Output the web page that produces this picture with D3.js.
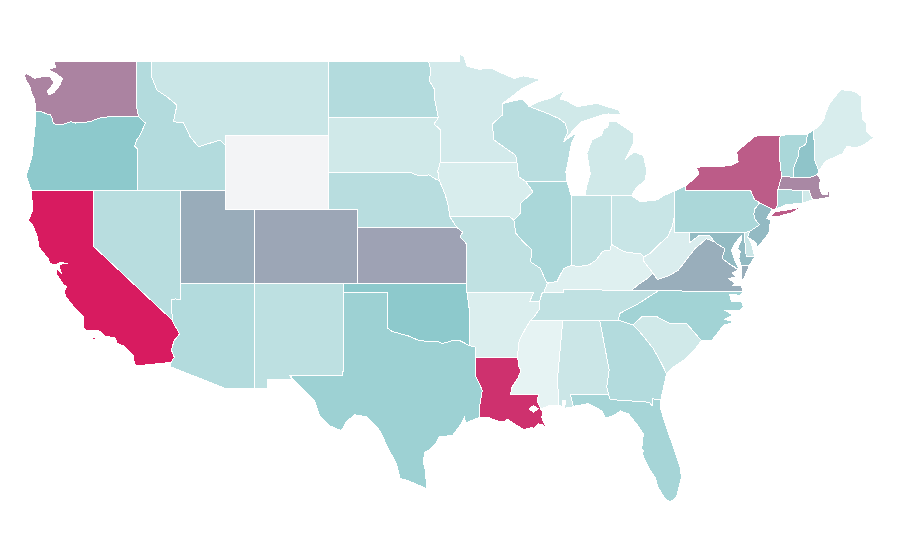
<!DOCTYPE html>
<html>
<head>
<meta charset="utf-8">
<style>
  html, body { margin: 0; padding: 0; background: #fff; }
</style>
<script src="https://cdn.jsdelivr.net/npm/d3@7"></script>
</head>
<body>
<div id="app"></div>
<script>
// 0 to 100, null means no data
const stateNames = ["WA","OR","CA","NV","ID","MT","WY","UT","CO","AZ","NM","ND","SD","NE","KS","OK","TX","MN","IA","MO","AR","LA","WI","IL","IN","MI","OH","KY","TN","MS","AL","GA","FL","SC","NC","VA","WV","PA","NY","VT","NH","ME","MA","CT","RI","NJ","DE","MD"];
const stateValues = [58,30,100,16.5,18,10.7,null,41.5,44,18,15,18,9,16.5,45.5,30,25,8,6.3,14,5.4,91,16.5,21,14,9,11.4,4,14,2,10.5,18,22,9,23.4,41,5.7,20.5,74,21,32,6.3,56,20,9,36,10.5,35.6];

// state outlines as [lon, lat] rings
const WA = [[[-117.03,49],[-117.04,46.42],[-116.92,45.99],[-118.98,46],[-119.3,45.93],[-119.6,45.92],[-120.2,45.73],[-120.5,45.7],[-121.2,45.65],[-121.5,45.72],[-122,45.6],[-122.3,45.55],[-122.7,45.62],[-122.8,45.9],[-122.9,46.1],[-123.2,46.15],[-123.5,46.26],[-123.9,46.27],[-123.95,46.6],[-123.97,46.9],[-124.2,47.3],[-124.3,47.6],[-124.55,47.95],[-124.65,48.17],[-124.62,48.38],[-124,48.06],[-123.45,48.15],[-122.9,48.15],[-122.67,47.8],[-123.12,47.38],[-123,47.16],[-122.67,47.3],[-122.26,47.7],[-122.1,48.06],[-122.55,48.33],[-123,48.5],[-123,48.6],[-122.55,48.64],[-122.67,49]]];
const OR = [[[-123.9,46.27],[-123.5,46.26],[-123.2,46.15],[-122.9,46.1],[-122.8,45.9],[-122.7,45.62],[-122.3,45.55],[-122,45.6],[-121.5,45.72],[-121.2,45.65],[-120.5,45.7],[-120.2,45.73],[-119.6,45.92],[-119.3,45.93],[-118.98,46],[-116.92,45.99],[-116.46,45.65],[-116.85,44.95],[-117.05,44.75],[-117.2,44.4],[-117,44.25],[-117.03,43.8],[-117.03,42],[-120,42],[-124.2,42],[-124.4,42.4],[-124.55,42.84],[-124.4,43.2],[-124.15,43.9],[-124.05,44.7],[-123.95,45.5]]];
const CA = [[[-124.2,42],[-120,42],[-120,39],[-114.63,35],[-114.45,34.7],[-114.14,34.27],[-114.5,33.9],[-114.7,33.4],[-114.5,33],[-114.72,32.72],[-117.12,32.53],[-117.25,32.85],[-117.3,33.1],[-117.9,33.6],[-118.4,33.75],[-118.5,34.03],[-119.2,34.15],[-119.6,34.42],[-120.5,34.45],[-120.65,34.6],[-120.65,35.15],[-121.3,35.7],[-121.9,36.3],[-121.95,36.6],[-121.8,36.8],[-122.05,36.95],[-122.5,37.5],[-122.5,37.8],[-122.15,37.5],[-122.35,37.95],[-122.1,38.05],[-121.7,38.05],[-122.25,38.12],[-122.5,38],[-122.95,38.05],[-123.05,38.3],[-123.7,38.95],[-123.8,39.5],[-124.1,40.1],[-124.4,40.4],[-124.1,41],[-124.2,41.75]],[[-120.15,34.02],[-119.95,34.08],[-119.75,34.02],[-119.95,33.95]],[[-118.55,33.45],[-118.35,33.42],[-118.45,33.35]]];
const NV = [[[-120,42],[-114.05,42],[-114.05,36.2],[-114.1,36.1],[-114.4,36.15],[-114.7,36.1],[-114.7,35.8],[-114.65,35.3],[-114.63,35],[-120,39]]];
const ID = [[[-117.03,49],[-116.05,49],[-116.04,48.15],[-115.68,47.43],[-115,47.07],[-114.32,46.62],[-114.55,45.72],[-113.87,45.66],[-113.42,44.91],[-112.86,44.37],[-111.39,44.73],[-111.05,44.47],[-111.05,42],[-114.05,42],[-117.03,42],[-117.03,43.8],[-117,44.25],[-117.2,44.4],[-117.05,44.75],[-116.85,44.95],[-116.46,45.65],[-116.92,45.99],[-117.04,46.42]]];
const MT = [[[-116.05,49],[-104.05,49],[-104.05,45.94],[-104.05,45],[-111.05,45],[-111.05,44.47],[-111.39,44.73],[-112.86,44.37],[-113.42,44.91],[-113.87,45.66],[-114.55,45.72],[-114.32,46.62],[-115,47.07],[-115.68,47.43],[-116.04,48.15]]];
const WY = [[[-111.05,45],[-104.05,45],[-104.05,43],[-104.05,41],[-109.05,41],[-111.05,41]]];
const UT = [[[-114.05,42],[-111.05,42],[-111.05,41],[-109.05,41],[-109.05,37],[-114.05,37]]];
const CO = [[[-109.05,41],[-104.05,41],[-102.05,41],[-102.05,40],[-102.05,37],[-103,37],[-109.05,37]]];
const AZ = [[[-114.05,37],[-109.05,37],[-109.05,31.33],[-111.07,31.33],[-114.8,32.5],[-114.72,32.72],[-114.5,33],[-114.7,33.4],[-114.5,33.9],[-114.14,34.27],[-114.45,34.7],[-114.63,35],[-114.65,35.3],[-114.7,35.8],[-114.7,36.1],[-114.4,36.15],[-114.1,36.1],[-114.05,36.2]]];
const NM = [[[-109.05,37],[-103,37],[-103,36.5],[-103.04,32],[-106.62,32],[-106.53,31.78],[-108.2,31.78],[-108.2,31.33],[-109.05,31.33]]];
const ND = [[[-104.05,49],[-97.23,49],[-97.1,48.6],[-97.15,47.9],[-96.85,47.5],[-96.8,46.9],[-96.56,45.94],[-104.05,45.94]]];
const SD = [[[-104.05,45.94],[-96.56,45.94],[-96.85,45.6],[-96.45,45.3],[-96.45,43.5],[-96.6,43.05],[-96.5,42.55],[-96.7,42.6],[-97.2,42.85],[-97.9,42.8],[-98.5,43],[-104.05,43]]];
const NE = [[[-104.05,43],[-98.5,43],[-97.9,42.8],[-97.2,42.85],[-96.7,42.6],[-96.5,42.55],[-96.1,41.8],[-95.9,41.2],[-95.77,40.58],[-95.3,40],[-102.05,40],[-102.05,41],[-104.05,41]]];
const KS = [[[-102.05,40],[-95.3,40],[-95.05,39.85],[-94.9,39.75],[-95.1,39.5],[-94.62,39.1],[-94.62,37],[-102.05,37]]];
const OK = [[[-103,37],[-94.62,37],[-94.62,36.5],[-94.43,35.4],[-94.48,33.64],[-95.15,33.92],[-95.7,33.88],[-96.28,33.74],[-96.6,33.85],[-97.2,33.85],[-97.86,33.9],[-98.6,34.15],[-99.2,34.28],[-99.7,34.4],[-100,34.56],[-100,36.5],[-103,36.5]]];
const TX = [[[-103,36.5],[-100,36.5],[-100,34.56],[-99.7,34.4],[-99.2,34.28],[-98.6,34.15],[-97.86,33.9],[-97.2,33.85],[-96.6,33.85],[-96.28,33.74],[-95.7,33.88],[-95.15,33.92],[-94.48,33.64],[-94.04,33.55],[-94.04,33],[-94.04,32],[-93.8,31.6],[-93.58,31.22],[-93.75,30.4],[-93.8,29.75],[-94.7,29.45],[-94.8,29.75],[-95,29.4],[-95.6,28.78],[-96.5,28.7],[-96.72,28.35],[-97.2,27.97],[-97.47,27.88],[-97.6,27.35],[-97.45,26.9],[-97.35,25.9],[-98.65,26.35],[-99.15,26.45],[-99.44,27.3],[-99.9,27.97],[-100.55,29.05],[-101.4,29.78],[-102.26,29.9],[-102.82,29.5],[-103.16,29.03],[-103.95,29.3],[-104.63,29.85],[-104.96,30.65],[-106.2,31.6],[-106.62,32],[-103.04,32]]];
const MN = [[[-97.23,49],[-95.15,49],[-95.15,49.35],[-94.85,49.3],[-94.6,48.72],[-93.8,48.55],[-92.95,48.62],[-92.22,48.33],[-91.4,48.05],[-90.8,48.2],[-89.6,48],[-90.8,47.55],[-92.22,46.7],[-92.22,46.08],[-92.9,45.6],[-92.78,44.73],[-91.3,43.9],[-91.22,43.5],[-96.45,43.5],[-96.45,45.3],[-96.85,45.6],[-96.56,45.94],[-96.8,46.9],[-96.85,47.5],[-97.15,47.9],[-97.1,48.6]]];
const IA = [[[-96.45,43.5],[-91.22,43.5],[-91.1,42.75],[-90.64,42.5],[-90.13,41.93],[-91,41.3],[-91,40.77],[-91.43,40.4],[-91.73,40.6],[-95.77,40.58],[-95.9,41.2],[-96.1,41.8],[-96.5,42.55],[-96.6,43.05]]];
const MO = [[[-95.77,40.58],[-91.73,40.6],[-91.43,40.4],[-91.3,39.7],[-90.76,39.2],[-90.2,38.8],[-90.3,38.15],[-89.63,37.8],[-89.29,37.16],[-89.15,37],[-89.4,36.5],[-89.5,36.5],[-89.7,36],[-90.37,36],[-90.08,36.5],[-94.62,36.5],[-94.62,37],[-94.62,39.1],[-95.1,39.5],[-94.9,39.75],[-95.05,39.85],[-95.3,40]]];
const AR = [[[-94.62,36.5],[-90.08,36.5],[-90.37,36],[-89.7,36],[-89.7,35.6],[-90.05,35.2],[-90.3,35],[-90.6,34.6],[-90.95,34.1],[-91.1,33.8],[-91.15,33.4],[-91.17,33],[-94.04,33],[-94.04,33.55],[-94.48,33.64],[-94.43,35.4]]];
const LA = [[[-94.04,33],[-91.17,33],[-91.1,32.5],[-90.95,32.3],[-91.15,31.9],[-91.55,31.4],[-91.66,31],[-89.74,31],[-89.85,30.65],[-89.6,30.2],[-89.45,30.05],[-89.55,29.75],[-89.2,29.15],[-89.45,29.35],[-89.75,29.4],[-90.1,29.15],[-90.2,29.2],[-90.75,29.1],[-91.3,29.35],[-91.85,29.65],[-92.05,29.55],[-92.5,29.55],[-93.2,29.75],[-93.8,29.75],[-93.75,30.4],[-93.58,31.22],[-93.8,31.6],[-94.04,32]],[[-90.4,30.22],[-90.1,30.38],[-89.78,30.22],[-90.1,30.03]]];
const WI = [[[-92.22,46.7],[-90.87,46.95],[-90.4,46.55],[-89.1,46.15],[-88.39,45.9],[-87.94,45.63],[-87.77,45.18],[-88.05,44.64],[-87.7,44.85],[-87.15,45.15],[-87.5,44.6],[-87.6,44.2],[-87.7,43.75],[-87.9,43],[-87.83,42.5],[-90.64,42.5],[-91.1,42.75],[-91.22,43.5],[-91.3,43.9],[-92.78,44.73],[-92.9,45.6],[-92.22,46.08]]];
const IL = [[[-90.64,42.5],[-87.83,42.5],[-87.55,41.75],[-87.53,39.35],[-87.55,38.7],[-87.55,37.95],[-88.05,37.8],[-88.5,37.1],[-89.15,37],[-89.29,37.16],[-89.63,37.8],[-90.3,38.15],[-90.2,38.8],[-90.76,39.2],[-91.3,39.7],[-91.43,40.4],[-91,40.77],[-91,41.3],[-90.13,41.93]]];
const IN = [[[-87.55,41.75],[-87.2,41.75],[-86.58,41.76],[-84.8,41.76],[-84.8,39.1],[-84.9,38.78],[-85.4,38.73],[-85.85,38.25],[-86.3,38],[-87,37.9],[-87.55,37.95],[-87.55,38.7],[-87.53,39.35]]];
const MI = [[[-86.58,41.76],[-84.8,41.76],[-83.45,41.73],[-83.15,42.1],[-82.5,42.6],[-82.4,43.1],[-82.64,43.9],[-83.3,44.1],[-83.87,43.65],[-83.3,44.55],[-83.3,45.09],[-84.44,45.72],[-85,45.72],[-85.05,45.4],[-85.34,45.36],[-85.46,45],[-86.13,44.73],[-86.47,44],[-86.24,42.93],[-86.5,42.2]],[[-90.4,46.55],[-89.8,46.8],[-88.9,47],[-88,47.42],[-88.3,46.95],[-87.83,46.85],[-87.15,46.53],[-85.8,46.71],[-84.33,46.35],[-84.11,46.08],[-85,46.14],[-85.46,46.08],[-86.81,45.72],[-87.49,45.18],[-88.05,44.64],[-87.77,45.18],[-87.94,45.63],[-88.39,45.9],[-89.1,46.15]]];
const OH = [[[-84.8,41.76],[-83.45,41.73],[-82.85,41.4],[-81.7,41.5],[-81.2,41.75],[-80.52,41.98],[-80.52,40.64],[-80.7,40],[-81,39.5],[-81.7,39],[-82.2,38.6],[-82.6,38.42],[-82.85,38.6],[-83.7,38.65],[-84.2,38.8],[-84.8,39.1]]];
const KY = [[[-89.4,36.5],[-88.07,36.5],[-88.07,36.68],[-86.5,36.65],[-83.45,36.6],[-83.1,36.85],[-82.3,37.3],[-81.97,37.54],[-82.6,38.17],[-82.6,38.42],[-82.85,38.6],[-83.7,38.65],[-84.2,38.8],[-84.8,39.1],[-84.9,38.78],[-85.4,38.73],[-85.85,38.25],[-86.3,38],[-87,37.9],[-87.55,37.95],[-88.05,37.8],[-88.5,37.1],[-89.15,37]]];
const TN = [[[-90.3,35],[-88.2,35],[-85.6,35],[-84.33,35],[-84.26,35.36],[-82.97,35.9],[-81.74,36.53],[-81.68,36.59],[-83.45,36.6],[-86.5,36.65],[-88.07,36.68],[-88.07,36.5],[-89.4,36.5],[-89.5,36.5],[-89.7,36],[-89.7,35.6],[-90.05,35.2]]];
const MS = [[[-91.17,33],[-91.15,33.4],[-91.1,33.8],[-90.95,34.1],[-90.6,34.6],[-90.3,35],[-88.2,35],[-88.12,34.9],[-88.46,31.94],[-88.4,30.4],[-89,30.4],[-89.6,30.2],[-89.85,30.65],[-89.74,31],[-91.66,31],[-91.55,31.4],[-91.15,31.9],[-90.95,32.3],[-91.1,32.5]]];
const AL = [[[-88.2,35],[-85.6,35],[-84.96,32.3],[-85.12,31.4],[-85,31],[-87.6,31],[-87.4,30.35],[-87.5,30.3],[-88,30.25],[-87.9,30.65],[-88.1,30.65],[-88.15,30.35],[-88.4,30.4],[-88.46,31.94],[-88.12,34.9]]];
const GA = [[[-85.6,35],[-84.33,35],[-83.35,34.75],[-82.97,34.46],[-81.96,33.47],[-81.4,32.66],[-81.06,32.1],[-81.2,31.6],[-81.45,30.72],[-82,30.75],[-82.05,30.35],[-82.2,30.57],[-84.9,30.72],[-85,31],[-85.12,31.4],[-84.96,32.3]]];
const FL = [[[-87.6,31],[-85,31],[-84.9,30.72],[-82.2,30.57],[-82.05,30.35],[-82,30.75],[-81.45,30.72],[-81.5,30.3],[-81.06,29.2],[-80.6,28.15],[-80.15,27.07],[-80.05,26.5],[-80.38,25.45],[-80.83,25.18],[-81.2,25.4],[-81.62,25.95],[-81.84,26.5],[-82.3,27.07],[-82.75,27.85],[-82.6,27.95],[-82.75,28.05],[-82.64,28.87],[-83.1,29.4],[-83.65,29.95],[-84.2,30.1],[-84.66,29.85],[-85.23,29.72],[-85.45,30.1],[-86.36,30.5],[-87.4,30.35]]];
const SC = [[[-83.35,34.75],[-82.75,35.18],[-81.74,35.2],[-80.83,34.82],[-79.7,34.82],[-78.7,33.9],[-79.15,33.4],[-79.8,32.9],[-80.72,32.4],[-81.06,32.1],[-81.4,32.66],[-81.96,33.47],[-82.97,34.46]]];
const NC = [[[-84.33,35],[-84.26,35.36],[-82.97,35.9],[-81.74,36.53],[-81.68,36.59],[-75.87,36.55],[-76.05,36.35],[-76.77,36.39],[-76.66,36.03],[-75.99,36.03],[-75.83,35.72],[-76.1,35.54],[-77.1,35.54],[-76.55,35.27],[-77.1,35.05],[-76.43,34.9],[-77.2,34.73],[-77.45,34.46],[-78,33.9],[-78.7,33.9],[-79.7,34.82],[-80.83,34.82],[-81.74,35.2],[-82.75,35.18],[-83.35,34.75]]];
const VA = [[[-83.45,36.6],[-81.68,36.59],[-75.87,36.55],[-75.99,36.9],[-76.55,36.9],[-76.4,37],[-76.85,37.25],[-76.3,37.35],[-76.6,37.55],[-76.2,37.72],[-76.66,37.97],[-77.29,38.33],[-77.1,38.87],[-77.68,39.15],[-77.79,39.23],[-78.35,39.4],[-79.13,38.87],[-80.27,37.7],[-80.9,37.4],[-81.68,37.2],[-81.97,37.54],[-82.3,37.3],[-83.1,36.85]],[[-75.42,37.97],[-75.87,37.16],[-76,37.3],[-76,37.97]]];
const WV = [[[-82.6,38.42],[-82.2,38.6],[-81.7,39],[-81,39.5],[-80.7,40],[-80.52,40.64],[-80.52,39.72],[-79.48,39.72],[-79.48,39.2],[-78.8,39.6],[-78.1,39.55],[-77.79,39.23],[-78.35,39.4],[-79.13,38.87],[-80.27,37.7],[-80.9,37.4],[-81.68,37.2],[-81.97,37.54],[-82.6,38.17]]];
const PA = [[[-80.52,41.98],[-79.76,42.27],[-79.76,42],[-75.35,42],[-75.08,41.5],[-74.74,41.35],[-75.08,41],[-75.13,40.77],[-75.1,40.5],[-74.75,40.15],[-75.41,39.8],[-75.79,39.72],[-79.48,39.72],[-80.52,39.72],[-80.52,40.64]]];
const NY = [[[-79.76,42.27],[-79.1,42.7],[-78.85,42.9],[-79.05,43.27],[-77.7,43.3],[-76.7,43.35],[-76.2,43.55],[-76.3,44.1],[-75.1,44.9],[-74.7,45],[-73.35,45],[-73.4,43.9],[-73.25,42.75],[-73.5,42.05],[-73.5,41.3],[-73.65,41],[-73.9,41],[-74.74,41.35],[-75.08,41.5],[-75.35,42],[-79.76,42]],[[-74.05,40.58],[-73.7,40.85],[-72.7,40.98],[-71.95,41.1],[-72.5,40.82],[-73.5,40.6]]];
const VT = [[[-73.35,45],[-71.5,45.02],[-71.6,44.5],[-72.05,44.3],[-72.1,43.9],[-72.45,43.2],[-72.46,42.73],[-73.25,42.75],[-73.4,43.9]]];
const NH = [[[-71.5,45.02],[-71.1,45.3],[-71,44.3],[-70.98,43.6],[-70.72,43.07],[-70.82,42.87],[-71.25,42.73],[-72.46,42.73],[-72.45,43.2],[-72.1,43.9],[-72.05,44.3],[-71.6,44.5]]];
const ME = [[[-71.1,45.3],[-70.8,45.4],[-70.4,45.8],[-70.25,46.2],[-70,46.7],[-69.23,47.46],[-69,47.43],[-68.3,47.36],[-67.8,47.07],[-67.78,45.9],[-67.45,45.6],[-67.45,45.2],[-67,44.85],[-67.6,44.5],[-68.2,44.3],[-68.8,44.4],[-69.1,44],[-69.8,43.75],[-70.25,43.6],[-70.55,43.25],[-70.72,43.07],[-70.98,43.6],[-71,44.3]]];
const MA = [[[-73.5,42.05],[-73.25,42.75],[-72.46,42.73],[-71.25,42.73],[-70.82,42.87],[-70.6,42.6],[-70.7,42.2],[-70.5,41.8],[-70.1,41.78],[-70.25,42.05],[-69.98,41.9],[-70,41.65],[-70.65,41.55],[-71.15,41.5],[-71.33,41.9],[-71.38,42.02],[-71.8,42.02]],[[-70.8,41.38],[-70.5,41.4],[-70.55,41.33]],[[-70.2,41.3],[-69.98,41.3],[-70.05,41.24]]];
const CT = [[[-73.5,42.05],[-71.8,42.02],[-71.85,41.32],[-72.9,41.25],[-73.65,41],[-73.5,41.3]]];
const RI = [[[-71.8,42.02],[-71.38,42.02],[-71.33,41.9],[-71.15,41.5],[-71.85,41.32]]];
const NJ = [[[-74.74,41.35],[-73.9,41],[-74.25,40.5],[-74,40.4],[-74.1,39.75],[-74.4,39.4],[-74.9,38.95],[-75,39.2],[-75.55,39.5],[-75.41,39.8],[-74.75,40.15],[-75.1,40.5],[-75.13,40.77],[-75.08,41]]];
const DE = [[[-75.79,39.72],[-75.41,39.8],[-75.55,39.5],[-75.3,39.15],[-75.08,38.42],[-75.65,38.42]]];
const MD = [[[-79.48,39.72],[-75.79,39.72],[-75.65,38.42],[-75.08,38.42],[-75.42,37.97],[-76,37.97],[-76.15,38.33],[-76.05,38.7],[-76.25,38.85],[-75.95,39.4],[-75.99,39.56],[-76.43,39.15],[-76.66,38.78],[-76.43,38.24],[-76.1,37.72],[-76.66,37.97],[-77.29,38.33],[-77.1,38.87],[-77.68,39.15],[-77.79,39.23],[-78.1,39.55],[-78.8,39.6],[-79.48,39.2]]];

const stateOutlines = [WA,OR,CA,NV,ID,MT,WY,UT,CO,AZ,NM,ND,SD,NE,KS,OK,TX,MN,IA,MO,AR,LA,WI,IL,IN,MI,OH,KY,TN,MS,AL,GA,FL,SC,NC,VA,WV,PA,NY,VT,NH,ME,MA,CT,RI,NJ,DE,MD];

var width = 900, height = 560;

// the map is stretched lon/lat, not a real projection
var x = d3.scaleLinear().domain([-111, -102]).range([225.8, 358.3]);
var y = d3.scaleLinear().domain([49, 37]).range([61, 283.2]);

var color = d3.scaleLinear()
    .domain([0, 30, 100])
    .range(["#ecf6f6", "#8dc9cc", "#d81b60"]);
var noDataColor = "#f3f4f6";

var path = d3.geoPath(d3.geoTransform({
    point: function(lon, lat) { this.stream.point(x(lon), y(lat)); }
}));

// geo streams expect rings to be closed
function toFeature(rings) {
    return {
        type: "MultiPolygon",
        coordinates: rings.map(r => [r.concat([r[0]])])
    };
}

var svg = d3.select("#app")
    .append("svg")
    .attr("width", width)
    .attr("height", height)
    .style("display", "block");

svg.selectAll("path")
    .data(stateNames)
    .join("path")
    .attr("class", d => "state " + d)
    .attr("d", (d, i) => path(toFeature(stateOutlines[i])))
    .attr("fill", (d, i) => stateValues[i] === null ? noDataColor : color(stateValues[i]))
    .attr("fill-rule", "evenodd")
    .attr("stroke", "#fff")
    .attr("stroke-width", 1)
    .attr("shape-rendering", "crispEdges");
</script>
</body>
</html>
